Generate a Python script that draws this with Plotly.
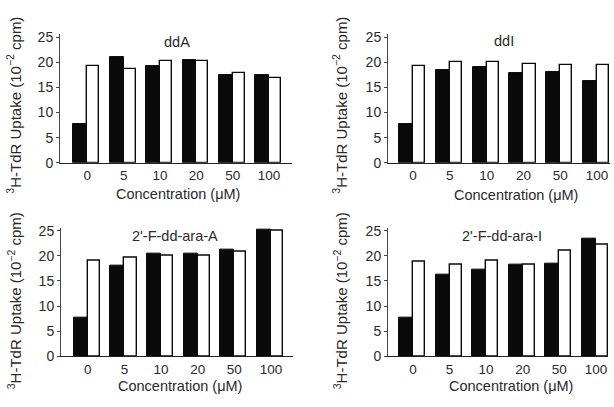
import plotly.graph_objects as go

categories = ["0", "5", "10", "20", "50", "100"]
panel_titles = ["ddA", "ddI", "2'-F-dd-ara-A", "2'-F-dd-ara-I"]

ddA_black = [7.8, 21.0, 19.3, 20.4, 17.4, 17.4]
ddA_white = [19.3, 18.7, 20.2, 20.2, 17.8, 16.9]
ddI_black = [7.8, 18.4, 19.0, 17.9, 18.0, 16.2]
ddI_white = [19.3, 20.0, 20.0, 19.7, 19.5, 19.5]
fA_black = [7.8, 18.1, 20.5, 20.5, 21.2, 25.3]
fA_white = [19.1, 19.6, 20.0, 20.1, 20.8, 25.0]
fI_black = [7.7, 16.2, 17.2, 18.2, 18.5, 23.5]
fI_white = [18.9, 18.2, 19.0, 18.2, 21.0, 22.2]

y_ticks = [0, 5, 10, 15, 20, 25]

W, H = 614, 407
def px(x):
    return x / W
def py(y):
    return 1 - y / H

panels = [
    dict(black=ddA_black, white=ddA_white, title=panel_titles[0],
         xd=(60, 292), yd=(163, 30), xr=(-0.75, 5.63), ttl=(177, 38), xt=(178, 195), yt=(14, 104)),
    dict(black=ddI_black, white=ddI_white, title=panel_titles[1],
         xd=(388, 610), yd=(163, 30), xr=(-0.68, 5.35), ttl=(504, 37), xt=(516, 196), yt=(340, 104)),
    dict(black=fA_black, white=fA_white, title=panel_titles[2],
         xd=(61, 293), yd=(363, 230), xr=(-0.73, 5.6), ttl=(175, 239), xt=(180, 394), yt=(14, 306)),
    dict(black=fI_black, white=fI_white, title=panel_titles[3],
         xd=(388, 608), yd=(363, 230), xr=(-0.68, 5.33), ttl=(502, 239), xt=(511, 394), yt=(340, 306)),
]

FONT = "Liberation Sans"
TXT = "#2a2a2a"
fig = go.Figure()
annotations = []
xpos = list(range(len(categories)))

for i, p in enumerate(panels):
    n = "" if i == 0 else str(i + 1)
    fig.add_trace(go.Bar(x=xpos, y=p["black"], width=0.38, offset=-0.38,
                         marker=dict(color="#0a0a0a", line=dict(color="#0a0a0a", width=1)),
                         xaxis="x" + n, yaxis="y" + n, showlegend=False))
    fig.add_trace(go.Bar(x=xpos, y=p["white"], width=0.33, offset=0.0,
                         marker=dict(color="white", line=dict(color="#0a0a0a", width=1.4)),
                         xaxis="x" + n, yaxis="y" + n, showlegend=False))
    xa = dict(domain=[px(p["xd"][0]), px(p["xd"][1])], range=list(p["xr"]),
              tickmode="array", tickvals=xpos, ticktext=categories,
              showline=True, linecolor="#222", linewidth=1.2, ticks="",
              showgrid=False, zeroline=False, anchor="y" + n,
              tickfont=dict(family=FONT, size=13.5, color=TXT))
    ya = dict(domain=[py(p["yd"][0]), py(p["yd"][1])], range=[0, 25.6],
              tickmode="array", tickvals=y_ticks,
              showline=True, linecolor="#444", linewidth=1, ticks="outside", ticklen=3,
              tickcolor="#444", showgrid=False, zeroline=False, anchor="x" + n,
              tickfont=dict(family=FONT, size=14, color=TXT))
    fig.layout["xaxis" + n] = xa
    fig.layout["yaxis" + n] = ya
    common = dict(xref="paper", yref="paper", showarrow=False,
                  xanchor="center", yanchor="middle")
    annotations.append(dict(text=p["title"], x=px(p["ttl"][0]), y=py(p["ttl"][1]),
                            font=dict(family=FONT, size=14.5, color=TXT), **common))
    annotations.append(dict(text="Concentration (μM)", x=px(p["xt"][0]), y=py(p["xt"][1]),
                            font=dict(family=FONT, size=14.5, color=TXT), **common))
    annotations.append(dict(text="<sup>3</sup>H-TdR Uptake (10<sup>−2</sup> cpm)",
                            x=px(p["yt"][0]), y=py(p["yt"][1]), textangle=-90,
                            font=dict(family=FONT, size=15, color=TXT), **common))

fig.update_layout(width=W, height=H, margin=dict(l=0, r=0, t=0, b=0),
                  paper_bgcolor="white", plot_bgcolor="white",
                  barmode="overlay", bargap=0, annotations=annotations)
fig.write_html("out.html")
